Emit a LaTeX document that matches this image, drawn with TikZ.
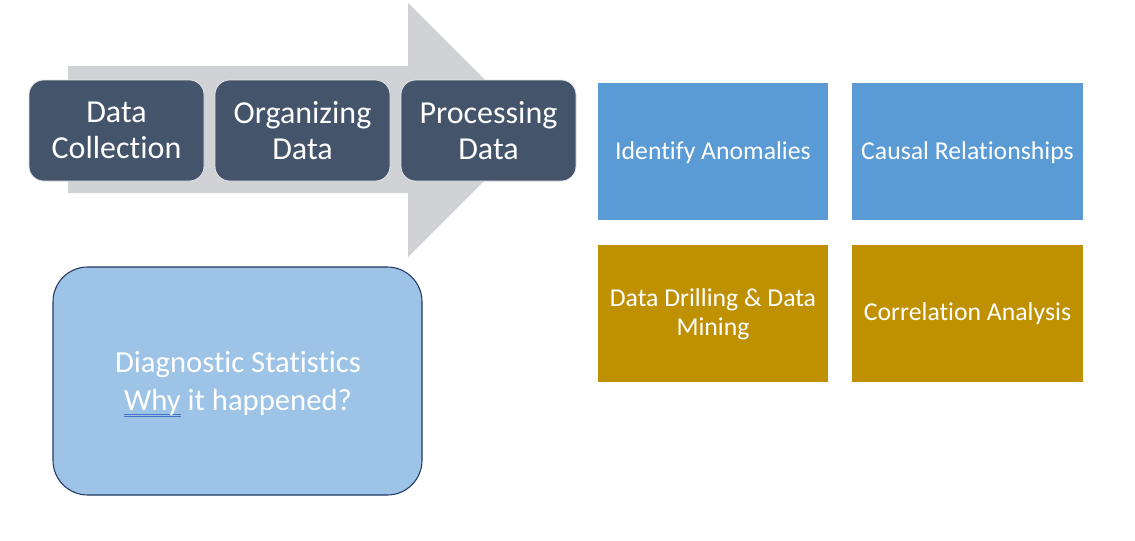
\documentclass[tikz,border=0pt]{standalone}
\usepackage{fontspec}
\setmainfont[Ligatures=NoCommon]{Carlito}
\definecolor{arrowgray}{RGB}{208,210,214}
\definecolor{slate}{RGB}{68,84,106}
\definecolor{boxblue}{RGB}{91,155,213}
\definecolor{boxgold}{RGB}{191,144,0}
\definecolor{lightblue}{RGB}{157,195,230}
\definecolor{navy}{RGB}{32,56,100}
\definecolor{spell}{RGB}{68,114,196}
\newsavebox\whybox
\newcommand\spellmark[1]{\sbox\whybox{#1}\leavevmode\rlap{\color{spell}\rule[-3.0pt]{\wd\whybox}{0.7pt}}\rlap{\color{spell}\rule[-4.5pt]{\wd\whybox}{0.7pt}}\usebox\whybox}
\begin{document}
\begin{tikzpicture}[x=0.75pt,y=-0.75pt,
  stepbox/.style={draw=white!85!slate,line width=0.6pt,fill=slate,rounded corners=11pt,text=white,align=center,font=\fontsize{24}{26.5}\selectfont,inner sep=0pt},
  tile/.style={text=white,align=center,font=\fontsize{19.3}{21.8}\selectfont,inner sep=0pt},
]
\useasboundingbox (0,0) rectangle (1135,540);
% gray arrow
\fill[arrowgray] (68,66) -- (408,66) -- (408,3) -- (535,130) -- (408,257) -- (408,193) -- (68,193) -- cycle;
% step boxes
\node[stepbox,minimum width=175*0.75pt,minimum height=101*0.75pt] (collect) at (116.5,130.5) {Data\\Collection};
\node[stepbox,minimum width=175*0.75pt,minimum height=101*0.75pt] (organize) at (302.5,130.5) {Organizing\\Data};
\node[stepbox,minimum width=175*0.75pt,minimum height=101*0.75pt] (process) at (488.5,130.5) {Processing\\Data};
% tiles
\fill[boxblue] (598,83) rectangle (828,220);
\node[tile] (anom) at (713,152.5) {Identify Anomalies};
\fill[boxblue] (852,83) rectangle (1083,220);
\node[tile] (causal) at (967.5,152.5) {Causal Relationships};
\fill[boxgold] (598,245) rectangle (828,382);
\node[tile] (drill) at (713,314.5) {Data Drilling \& Data\\Mining};
\fill[boxgold] (852,245) rectangle (1083,382);
\node[tile] (corr) at (967.5,313.5) {Correlation Analysis};
% diagnostic box
\node[draw=navy,line width=0.8pt,fill=lightblue,rounded corners=26pt,minimum width=369*0.75pt,minimum height=228*0.75pt,inner sep=0pt] (diag) at (237.5,381) {};
\node[text=white,align=center,font=\fontsize{23}{28.5}\selectfont,inner sep=0pt] (diagtext) at (238,384) {Diagnostic Statistics\\\spellmark{Why} it happened?};
\end{tikzpicture}
\end{document}
